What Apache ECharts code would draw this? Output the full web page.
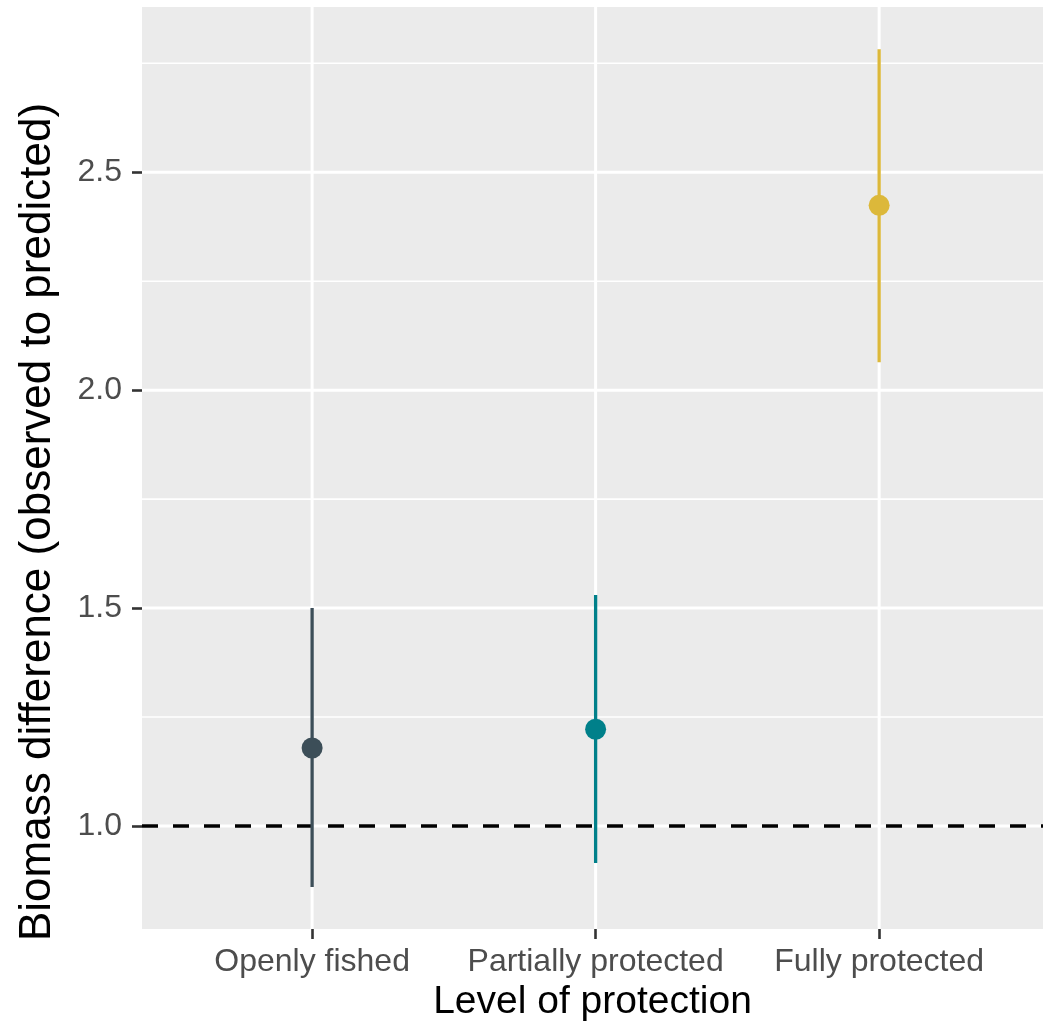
<!DOCTYPE html>
<html>
<head>
<meta charset="utf-8">
<script src="https://cdn.jsdelivr.net/npm/echarts@6/dist/echarts.min.js"></script>
<style>
html,body{margin:0;padding:0;background:#fff;}
#chart{width:1043px;height:1022px;}
</style>
</head>
<body>
<div id="chart"></div>
<script>
const categories = ['Openly fished', 'Partially protected', 'Fully protected'];
const estimates = [1.179, 1.222, 2.424];
const lower = [0.860, 0.915, 2.064];
const upper = [1.500, 1.530, 2.782];
const colors = ['#3C4E58', '#00808A', '#DCB83A'];
const yTicks = [1.0, 1.5, 2.0, 2.5];
const yMinorGrid = [1.25, 1.75, 2.25, 2.75];
const xTicks = [1, 2, 3];
const refLine = [1.0];

const FONT = '"Liberation Sans", Arial, sans-serif';
const X_MIN = 0.4, X_MAX = 3.578, Y_MIN = 0.7638, Y_MAX = 2.879;

function hLineRender(width, color, dash) {
  return function (params, api) {
    const cs = params.coordSys;
    const y = api.coord([X_MIN, api.value(0)])[1];
    return {
      type: 'line',
      shape: { x1: cs.x, y1: y, x2: cs.x + cs.width, y2: y },
      style: { stroke: color, lineWidth: width, lineDash: dash || null }
    };
  };
}
function vLineRender(width, color) {
  return function (params, api) {
    const cs = params.coordSys;
    const x = api.coord([api.value(0), Y_MIN])[0];
    return {
      type: 'line',
      shape: { x1: x, y1: cs.y, x2: x, y2: cs.y + cs.height },
      style: { stroke: color, lineWidth: width }
    };
  };
}

const chart = echarts.init(document.getElementById('chart'), null, { renderer: 'canvas' });
chart.setOption({
  animation: false,
  backgroundColor: '#ffffff',
  textStyle: { fontFamily: FONT },
  grid: {
    left: 142, right: 0, top: 7, bottom: 93,
    containLabel: false, outerBoundsMode: 'none',
    show: true, backgroundColor: '#EBEBEB', borderWidth: 0
  },
  xAxis: {
    type: 'value', min: X_MIN, max: X_MAX,
    name: 'Level of protection', nameLocation: 'middle', nameGap: 51,
    nameTextStyle: { fontSize: 39, color: '#000', fontFamily: FONT },
    axisLine: { show: false },
    splitLine: { show: false },
    axisTick: { show: true, customValues: xTicks, length: 10, lineStyle: { color: '#333333', width: 2.6 } },
    axisLabel: {
      customValues: xTicks, fontSize: 32, color: '#4D4D4D', margin: 17, fontFamily: FONT,
      formatter: v => categories[Math.round(v) - 1] || ''
    }
  },
  yAxis: {
    type: 'value', min: Y_MIN, max: Y_MAX,
    name: 'Biomass difference (observed to predicted)', nameLocation: 'middle', nameRotate: 90, nameGap: 82,
    nameTextStyle: { fontSize: 44, color: '#000', fontFamily: FONT, padding: [0, 108, 0, 0] },
    axisLine: { show: false },
    splitLine: { show: false },
    axisTick: { show: true, customValues: yTicks, length: 10, lineStyle: { color: '#333333', width: 2.6 } },
    axisLabel: {
      customValues: yTicks, fontSize: 32, color: '#4D4D4D', margin: 20, fontFamily: FONT,
      formatter: v => v.toFixed(1)
    }
  },
  series: [
    { type: 'custom', silent: true, z: 1, data: yMinorGrid.map(v => [v]), renderItem: hLineRender(1.6, '#FFFFFF') },
    { type: 'custom', silent: true, z: 1, data: yTicks.map(v => [v]), renderItem: hLineRender(3, '#FFFFFF') },
    { type: 'custom', silent: true, z: 1, data: xTicks.map(v => [v]), renderItem: vLineRender(3, '#FFFFFF') },
    { type: 'custom', silent: true, z: 2, data: refLine.map(v => [v]), renderItem: hLineRender(3.6, '#000000', [16, 15]) },
    {
      type: 'custom', silent: true, z: 3,
      data: categories.map((c, i) => [i + 1, lower[i], upper[i]]),
      renderItem: function (params, api) {
        const p1 = api.coord([api.value(0), api.value(1)]);
        const p2 = api.coord([api.value(0), api.value(2)]);
        return {
          type: 'line',
          shape: { x1: p1[0], y1: p1[1], x2: p2[0], y2: p2[1] },
          style: { stroke: colors[params.dataIndex], lineWidth: 3.3 }
        };
      }
    },
    {
      type: 'scatter', z: 4, symbol: 'circle', symbolSize: 21,
      itemStyle: { opacity: 1 },
      data: categories.map((c, i) => ({ value: [i + 1, estimates[i]], itemStyle: { color: colors[i], opacity: 1 } }))
    }
  ]
});
</script>
</body>
</html>
